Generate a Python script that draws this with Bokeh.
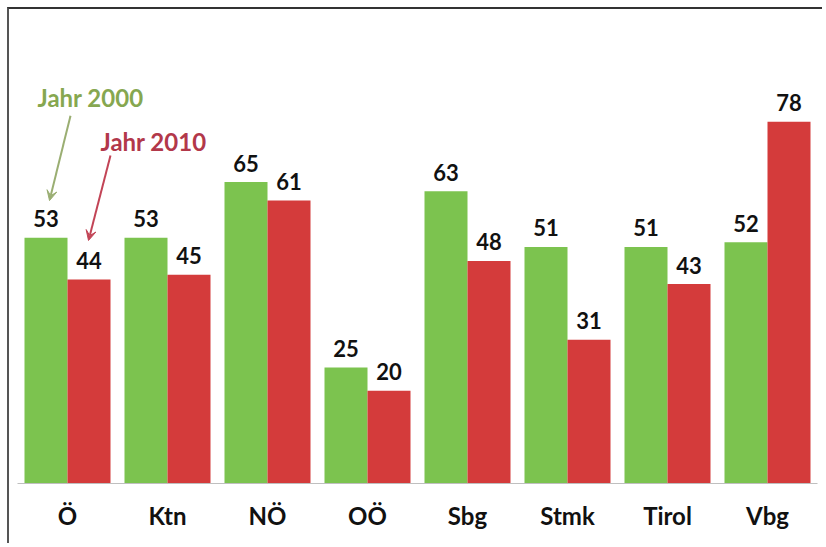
from bokeh.plotting import figure
from bokeh.models import ColumnDataSource, FactorRange, Range1d, Label, Arrow, VeeHead
from bokeh.transform import dodge
from bokeh.core.properties import value
from bokeh.embed import file_html
from bokeh.resources import INLINE

categories = ["Ö", "Ktn", "NÖ", "OÖ", "Sbg", "Stmk", "Tirol", "Vbg"]
jahr_2000 = [53, 53, 65, 25, 63, 51, 51, 52]
jahr_2010 = [44, 45, 61, 20, 48, 31, 43, 78]

GREEN = "#7cc34f"
RED = "#d43b3b"
FONT = "Lato"

src = ColumnDataSource(dict(
    cat=categories,
    v2000=jahr_2000,
    v2010=jahr_2010,
    t2000=[str(v) for v in jahr_2000],
    t2010=[str(v) for v in jahr_2010],
))

p = figure(
    x_range=FactorRange(*categories, range_padding=0, factor_padding=0),
    y_range=Range1d(0, 102.2),
    width=815, height=536,
    output_backend="svg", toolbar_location=None,
    min_border_left=8, min_border_right=7, min_border_top=0, min_border_bottom=62,
)
p.styles = {"margin-left": "7px", "margin-top": "7px",
            "border-top": "2px solid #333333", "border-left": "2px solid #555555"}

p.vbar(x=dodge("cat", -0.215, range=p.x_range), top="v2000", width=0.43,
       source=src, fill_color=GREEN, line_color=None)
p.vbar(x=dodge("cat", 0.215, range=p.x_range), top="v2010", width=0.43,
       source=src, fill_color=RED, line_color=None)

p.text(x=dodge("cat", -0.215, range=p.x_range), y="v2000", text="t2000", source=src,
       text_align="center", text_baseline="alphabetic", y_offset=-19,
       text_font=value(FONT), text_font_style="bold", text_font_size="22px",
       text_color="#111111")
p.text(x=dodge("cat", 0.215, range=p.x_range), y="v2010", text="t2010", source=src,
       text_align="center", text_baseline="alphabetic", y_offset=-19,
       text_font=value(FONT), text_font_style="bold", text_font_size="22px",
       text_color="#111111")

# series annotations
p.add_layout(Label(x=0.2, y=83.2, text="Jahr 2000", text_font=FONT, text_font_style="bold",
                   text_font_size="24px", text_color="#86a750", text_baseline="alphabetic"))
p.add_layout(Label(x=0.83, y=73.8, text="Jahr 2010", text_font=FONT, text_font_style="bold",
                   text_font_size="24px", text_color="#b2384a", text_baseline="alphabetic"))
p.add_layout(Arrow(x_start=0.53, y_start=79.3, x_end=0.32, y_end=61.0,
                   line_color="#9aae72", line_width=2,
                   end=VeeHead(size=10, fill_color="#9aae72", line_color="#9aae72")))
p.add_layout(Arrow(x_start=0.93, y_start=70.7, x_end=0.71, y_end=52.4,
                   line_color="#c24456", line_width=2,
                   end=VeeHead(size=10, fill_color="#c24456", line_color="#c24456")))

p.yaxis.visible = False
p.xgrid.grid_line_color = None
p.ygrid.grid_line_color = None
p.outline_line_color = None
p.background_fill_color = "white"
p.border_fill_color = "white"

ax = p.xaxis[0]
ax.axis_line_color = "#bfbfbf"
ax.axis_line_width = 1
ax.major_tick_line_color = None
ax.minor_tick_line_color = None
ax.major_label_text_font = FONT
ax.major_label_text_font_style = "bold"
ax.major_label_text_font_size = "24px"
ax.major_label_text_color = "#111111"
ax.major_label_standoff = 11

open("out.html", "w").write(file_html(p, INLINE))
